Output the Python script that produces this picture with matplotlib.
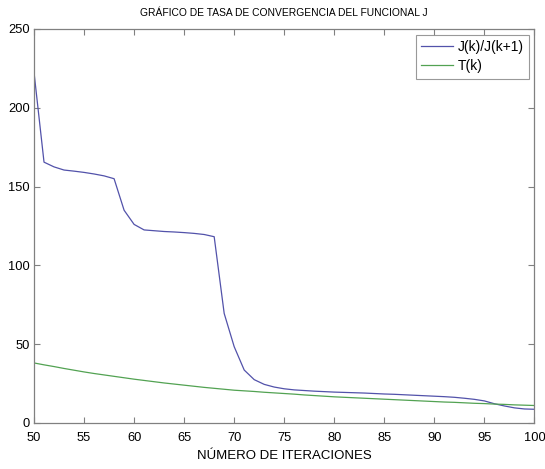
import matplotlib
matplotlib.use('Agg')
import matplotlib.pyplot as plt

plt.rcParams['font.family'] = ['Liberation Sans', 'DejaVu Sans']

# iteraciones k = 50..100
k = list(range(50, 101))

# J(k)/J(k+1)
jk = [222.5, 165.5, 162.5, 160.5, 159.8, 159.0, 158.0, 156.8, 155.0, 135.0,
      126.0, 122.5, 122.0, 121.5, 121.2, 120.8, 120.3, 119.6, 118.2, 69.5,
      48.4, 33.6, 27.5, 24.5, 22.8, 21.7, 21.0, 20.6, 20.2, 19.9,
      19.6, 19.4, 19.2, 19.0, 18.7, 18.4, 18.2, 17.9, 17.6, 17.3,
      17.0, 16.7, 16.3, 15.7, 15.0, 14.0, 12.2, 10.8, 9.6, 8.9,
      8.7]

# T(k)
tk = [38.1, 36.9, 35.8, 34.6, 33.5, 32.4, 31.4, 30.5, 29.6, 28.7,
      27.8, 27.0, 26.2, 25.4, 24.7, 24.0, 23.3, 22.6, 22.0, 21.4,
      20.8, 20.4, 20.0, 19.5, 19.1, 18.7, 18.3, 17.8, 17.4, 17.0,
      16.6, 16.3, 16.0, 15.7, 15.4, 15.1, 14.8, 14.5, 14.2, 13.9,
      13.6, 13.3, 13.1, 12.8, 12.5, 12.3, 12.0, 11.8, 11.5, 11.3,
      11.1]

xticks = list(range(50, 101, 5))
yticks = [0, 50, 100, 150, 200, 250]

fig = plt.figure(figsize=(5.45, 4.69), dpi=100)
ax = fig.add_axes([0.0624, 0.0981, 0.9183, 0.8401])

ax.plot(k, jk, color='#5252aa', lw=0.9, label='J(k)/J(k+1)')
ax.plot(k, tk, color='#52a252', lw=0.9, label='T(k)')

ax.set_xlim(50, 100)
ax.set_ylim(0, 250)
ax.set_xticks(xticks)
ax.set_yticks(yticks)
ax.tick_params(direction='in', length=4, width=0.8, color='#808080',
               top=True, right=True, labelsize=9.3)
ax.tick_params(axis='x', pad=6.5)
ax.tick_params(axis='y', pad=3)
for s in ax.spines.values():
    s.set_color('#808080')
    s.set_linewidth(0.9)

ax.set_title('GRÁFICO DE TASA DE CONVERGENCIA DEL FUNCIONAL J', fontsize=7.4, pad=9)
ax.set_xlabel('NÚMERO DE ITERACIONES', fontsize=9.5, labelpad=4)

leg = ax.legend(loc='upper right', fontsize=10, frameon=True, fancybox=False,
                edgecolor='#808080', handlelength=2.3, borderaxespad=0.4,
                handletextpad=0.3, labelspacing=0.35, borderpad=0.4)
leg.get_frame().set_linewidth(0.8)

fig.savefig('out.png', dpi=100)
